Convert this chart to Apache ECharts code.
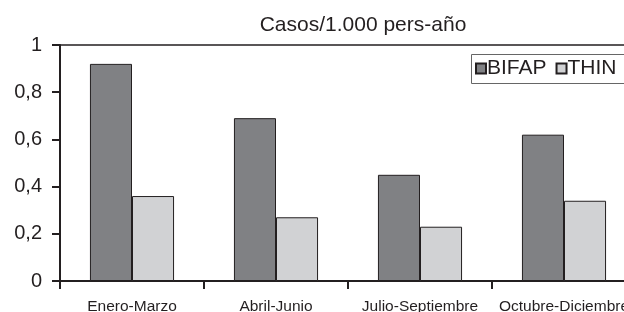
<!DOCTYPE html>
<html>
<head>
<meta charset="utf-8">
<script src="https://cdn.jsdelivr.net/npm/echarts@6/dist/echarts.min.js"></script>
<style>
  html, body { margin: 0; padding: 0; background: #fff; }
  #chart { width: 624px; height: 312px; }
</style>
</head>
<body>
<div id="chart"></div>
<script>
var categories = ["Enero-Marzo", "Abril-Junio", "Julio-Septiembre", "Octubre-Diciembre"];
var bifap = [0.92, 0.69, 0.45, 0.62];
var thin = [0.36, 0.27, 0.23, 0.34];

var FONT = "Liberation Sans, Arial, sans-serif";
var INK = "#231f20";

var myChart = echarts.init(document.getElementById("chart"));

myChart.setOption({
  animation: false,
  backgroundColor: "#fff",
  title: {
    text: "Casos/1.000 pers-año",
    left: 358,
    textAlign: "center",
    top: 10,
    textStyle: { fontFamily: FONT, fontSize: 21, fontWeight: "normal", color: INK }
  },
  // legend frame runs off the right edge, like the original
  graphic: [{
    type: "rect",
    silent: true,
    shape: { x: 471.5, y: 54.5, width: 220, height: 29 },
    style: { fill: null, stroke: "#666", lineWidth: 1 }
  }],
  legend: {
    data: ["BIFAP", "THIN"],
    left: 475,
    top: 58,
    width: 300,
    orient: "horizontal",
    padding: 0,
    itemGap: 9,
    itemWidth: 10,
    itemHeight: 10,
    icon: "rect",
    textStyle: { fontFamily: FONT, fontSize: 21, color: INK, padding: [0, 0, 0, -4] }
  },
  grid: {
    left: 60,
    top: 45,
    bottom: 31,
    width: 576,
    outerBoundsMode: "none",
    show: true,
    borderColor: INK,
    borderWidth: 1.5
  },
  xAxis: {
    type: "category",
    data: categories,
    axisLine: { lineStyle: { color: INK, width: 2 } },
    axisTick: { show: true, length: 8, lineStyle: { color: INK, width: 2 } },
    axisLabel: { fontFamily: FONT, fontSize: 15.5, color: INK, margin: 18, interval: 0 }
  },
  yAxis: {
    type: "value",
    min: 0,
    max: 1,
    interval: 0.2,
    axisLine: { show: true, lineStyle: { color: INK, width: 2 } },
    axisTick: { show: true, length: 8, lineStyle: { color: INK, width: 2 } },
    splitLine: { show: false },
    axisLabel: {
      fontFamily: FONT,
      fontSize: 20,
      color: INK,
      margin: 18,
      formatter: function (v) { return String(+v.toFixed(1)).replace(".", ","); }
    }
  },
  series: [
    {
      name: "BIFAP",
      type: "bar",
      data: bifap,
      barGap: "0%",
      barCategoryGap: "41.6%",
      itemStyle: { color: "#808184", borderColor: INK, borderWidth: 1 }
    },
    {
      name: "THIN",
      type: "bar",
      data: thin,
      itemStyle: { color: "#d1d2d4", borderColor: INK, borderWidth: 1 }
    }
  ]
});
</script>
</body>
</html>
